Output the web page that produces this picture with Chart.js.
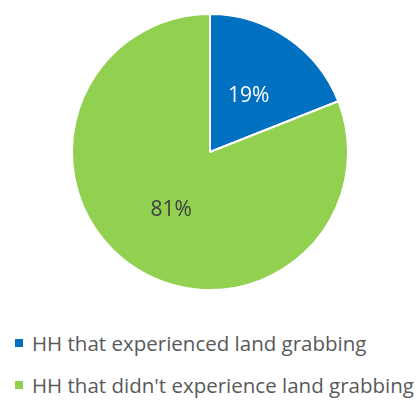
<!DOCTYPE html>
<html>
<head>
<meta charset="utf-8">
<script src="https://cdn.jsdelivr.net/npm/chart.js@4"></script>
<style>
body{margin:0;background:#fff;font-family:"Open Sans",sans-serif;}
#wrap{position:relative;width:420px;height:300px;}
#legend{position:absolute;left:15px;top:329px;}
.item{display:flex;align-items:center;height:28px;margin-bottom:14px;color:#595959;font-size:20.5px;white-space:nowrap;}
.box{width:8px;height:8px;margin-right:9px;flex:none;}
</style>
</head>
<body>
<div id="wrap"><canvas id="pie"></canvas></div>
<div id="legend"></div>
<script>
const labels=[
    "HH that experienced land grabbing",
    "HH that didn't experience land grabbing"
];
const shares=[19,81];
const colors=["#0070C0","#92D050"];
const labelColors=["#ffffff","#404040"];

// percentage labels inside each slice
const sliceLabels={
    id:"sliceLabels",
    afterDatasetsDraw(chart){
        const ctx=chart.ctx;
        const meta=chart.getDatasetMeta(0);
        ctx.save();
        ctx.font="21px 'Open Sans'";
        ctx.textAlign="center";
        ctx.textBaseline="middle";
        meta.data.forEach((arc,i)=>{
            const mid=(arc.startAngle+arc.endAngle)/2;
            const r=arc.outerRadius*0.5;
            ctx.fillStyle=labelColors[i];
            ctx.fillText(shares[i]+"%",arc.x+Math.cos(mid)*r,arc.y+Math.sin(mid)*r+1);
        });
        ctx.restore();
    }
};

new Chart(
    document.getElementById("pie"),
    {
        type:"pie",
        data:{
            labels,
            datasets:[{
                data:shares,
                backgroundColor:colors,
                borderColor:"#ffffff",
                borderWidth:2
            }]
        },
        options:{
            responsive:true,
            maintainAspectRatio:false,
            animation:false,
            layout:{
                padding:{top:13,bottom:9,left:0,right:0}
            },
            plugins:{
                legend:{display:false},
                tooltip:{enabled:false}
            }
        },
        plugins:[sliceLabels]
    }
);

const legend=document.getElementById("legend");
labels.forEach((text,i)=>{
    const item=document.createElement("div");
    item.className="item";
    item.innerHTML='<span class="box" style="background:'+colors[i]+'"></span>'+text;
    legend.appendChild(item);
});
</script>
</body>
</html>
